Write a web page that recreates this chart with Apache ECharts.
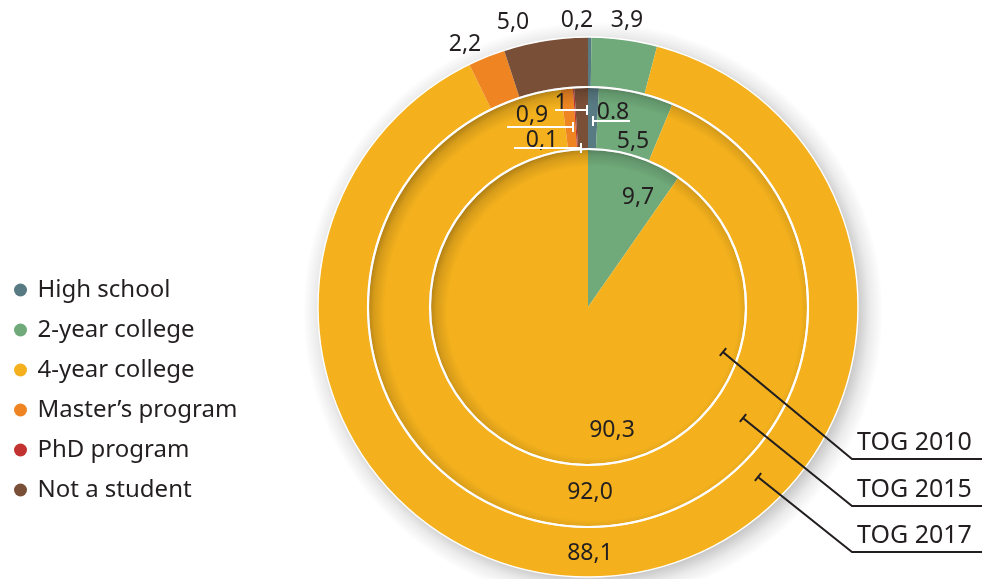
<!DOCTYPE html>
<html>
<head>
<meta charset="utf-8">
<script src="https://cdn.jsdelivr.net/npm/echarts@6/dist/echarts.min.js"></script>
<style>
  html, body { margin: 0; padding: 0; background: #ffffff; }
  #chart { width: 982px; height: 579px; background: #ffffff; }
</style>
</head>
<body>
<div id="chart"></div>
<script>
// ---- data ----------------------------------------------------------------
const categories = ['High school', '2-year college', '4-year college', 'Master’s program', 'PhD program', 'Not a student'];
const tog2010 = [null, 9.7, 90.3, null, null, null];
const tog2015 = [0.8, 5.5, 92.0, 0.9, 0.1, 1];
const tog2017 = [0.2, 3.9, 88.1, 2.2, null, 5.0];
// printed value texts for the 2015 ring (as published)
const tog2015Text = ['0.8', '5,5', '92,0', '0,9', '0,1', '1'];
const ringNames = ['TOG 2010', 'TOG 2015', 'TOG 2017'];

// ---- styling & layout ----------------------------------------------------
const palette = ['#587a83', '#70aa7a', '#f4b11d', '#ee8522', '#c23230', '#7a4f38'];
const INK = '#231f20';
const FONT = '"Noto Sans", "Open Sans", sans-serif';
const CX = 588, CY = 307;
const RING_2010 = [0, 157];
const RING_2015 = [159, 219];
const RING_2017 = [221, 270];
const SHADE_SHIFT = 5;

// label anchor offsets from the chart centre, keyed by category index
const labelOffsets2010 = { 1: [50, -110], 2: [24, 123] };
const labelOffsets2015 = { 0: [25, -195], 1: [45, -166], 2: [2, 185], 3: [-56, -192], 4: [-46, -167], 5: [-27, -204] };
const labelOffsets2017 = { 0: [-11, -287], 1: [39, -287], 2: [2, 246], 3: [-123, -263], 5: [-75, -285] };
// white pointer lines for the thin 2015 slices: cap point and far end (x)
const pointers2015 = {
  0: { cap: [5, -186], tail: 42 },
  3: { cap: [-15, -180], tail: -81 },
  4: { cap: [-7, -159], tail: -74 },
  5: { cap: [-1, -197], tail: -33 }
};
// ring call-outs on the right
const callouts = [
  { anchor: [723, 352], bend: [852, 459] },
  { anchor: [743, 418], bend: [852, 506] },
  { anchor: [758, 477], bend: [852, 552] }
];

function commaText(v) { return v.toFixed(1).replace('.', ','); }

function ringItems(values) {
  const items = [];
  values.forEach(function (v, i) {
    if (v == null) return;
    items.push({ name: categories[i], value: v, cat: i, itemStyle: { color: palette[i] } });
  });
  return items;
}

const items2010 = ringItems(tog2010);
const items2015 = ringItems(tog2015);
const items2017 = ringItems(tog2017);

function labelPlacer(items, offsets) {
  return function (p) {
    const off = offsets[items[p.dataIndex].cat];
    return { x: CX + off[0], y: CY + off[1], align: 'center', verticalAlign: 'middle' };
  };
}

function ringSeries(name, items, radius, textOf, offsets, z) {
  return {
    type: 'pie', name: name, z: z,
    center: [CX, CY], radius: radius,
    startAngle: 90, clockwise: true,
    avoidLabelOverlap: false, silent: true,
    label: {
      show: true, position: 'outside',
      color: INK, fontFamily: FONT, fontSize: 23,
      formatter: function (p) { return textOf(items[p.dataIndex].cat, p.value); }
    },
    labelLine: { show: false },
    labelLayout: labelPlacer(items, offsets),
    itemStyle: { borderWidth: 0 },
    emphasis: { disabled: true },
    data: items
  };
}

// soft shading: a radial gradient disc, offset down-right
function shade(r, stops, z) {
  return {
    type: 'circle', silent: true, z: z,
    shape: { cx: CX + SHADE_SHIFT, cy: CY + SHADE_SHIFT, r: r },
    style: { fill: { type: 'radial', x: 0.5, y: 0.5, r: 0.5, colorStops: stops } }
  };
}

const graphics = [];
// drop shadow just outside the outer ring (gradient centred down-right)
graphics.push({
  type: 'ring', silent: true, z: 7,
  shape: { cx: CX, cy: CY, r0: RING_2017[1], r: RING_2017[1] + 30 },
  style: {
    fill: {
      type: 'radial', global: true,
      x: CX + SHADE_SHIFT, y: CY + SHADE_SHIFT, r: 290,
      colorStops: [
        { offset: 0, color: 'rgba(0,0,0,0.22)' },
        { offset: 0.91, color: 'rgba(0,0,0,0.22)' },
        { offset: 0.955, color: 'rgba(0,0,0,0.08)' },
        { offset: 1, color: 'rgba(0,0,0,0)' }
      ]
    }
  }
});
// inner edge shading cast by the 2015 ring onto the 2010 disc
graphics.push(shade(165, [
  { offset: 0, color: 'rgba(0,0,0,0)' },
  { offset: 0.88, color: 'rgba(0,0,0,0)' },
  { offset: 0.95, color: 'rgba(0,0,0,0.12)' },
  { offset: 1, color: 'rgba(0,0,0,0.3)' }
], 3));
// inner edge shading cast by the 2017 ring onto the 2015 ring
graphics.push(shade(227, [
  { offset: 0, color: 'rgba(0,0,0,0)' },
  { offset: 0.915, color: 'rgba(0,0,0,0)' },
  { offset: 0.965, color: 'rgba(0,0,0,0.12)' },
  { offset: 1, color: 'rgba(0,0,0,0.3)' }
], 5));

// white separators between the rings and round the outer edge
[RING_2010[1] + 1, RING_2015[1] + 1].forEach(function (r) {
  graphics.push({ type: 'circle', silent: true, z: 50, shape: { cx: CX, cy: CY, r: r }, style: { fill: null, stroke: '#ffffff', lineWidth: 2.2 } });
});
graphics.push({ type: 'circle', silent: true, z: 50, shape: { cx: CX, cy: CY, r: RING_2017[1] }, style: { fill: null, stroke: '#ffffff', lineWidth: 1.4 } });

// white pointers under the small 2015 values
Object.keys(pointers2015).forEach(function (k) {
  const p = pointers2015[k];
  const x = CX + p.cap[0], y = CY + p.cap[1];
  graphics.push({
    type: 'polyline', silent: true, z: 55,
    shape: { points: [[x, y - 5], [x, y + 5], [x, y], [CX + p.tail, y]] },
    style: { fill: null, stroke: '#ffffff', lineWidth: 2 }
  });
});

// call-out lines with a small cross cap at the anchor
callouts.forEach(function (c, i) {
  const dx = c.bend[0] - c.anchor[0], dy = c.bend[1] - c.anchor[1];
  const len = Math.sqrt(dx * dx + dy * dy);
  const px = -dy / len * 5, py = dx / len * 5;
  graphics.push({
    type: 'polyline', silent: true, z: 60,
    shape: { points: [[c.anchor[0] + px, c.anchor[1] + py], [c.anchor[0] - px, c.anchor[1] - py], c.anchor, c.bend, [982, c.bend[1]]] },
    style: { fill: null, stroke: INK, lineWidth: 2 }
  });
  graphics.push({
    type: 'text', silent: true, z: 60, x: c.bend[0] + 5, y: c.bend[1] - 16,
    style: { text: ringNames[i], font: '25px ' + FONT, fill: INK, textAlign: 'left', textVerticalAlign: 'middle', align: 'left', verticalAlign: 'middle' }
  });
});

const chart = echarts.init(document.getElementById('chart'), null, { renderer: 'canvas' });
chart.setOption({
  animation: false,
  backgroundColor: 'transparent',
  legend: {
    orient: 'vertical', left: 9, top: 273,
    data: categories, icon: 'circle',
    itemWidth: 24, itemHeight: 13, itemGap: 16,
    selectedMode: false,
    textStyle: { color: INK, fontFamily: FONT, fontSize: 24, lineHeight: 24 }
  },
  series: [
    ringSeries(ringNames[0], items2010, RING_2010, function (c, v) { return commaText(v); }, labelOffsets2010, 2),
    ringSeries(ringNames[1], items2015, RING_2015, function (c) { return tog2015Text[c]; }, labelOffsets2015, 4),
    ringSeries(ringNames[2], items2017, RING_2017, function (c, v) { return commaText(v); }, labelOffsets2017, 6)
  ],
  graphic: { elements: graphics }
});
</script>
</body>
</html>
